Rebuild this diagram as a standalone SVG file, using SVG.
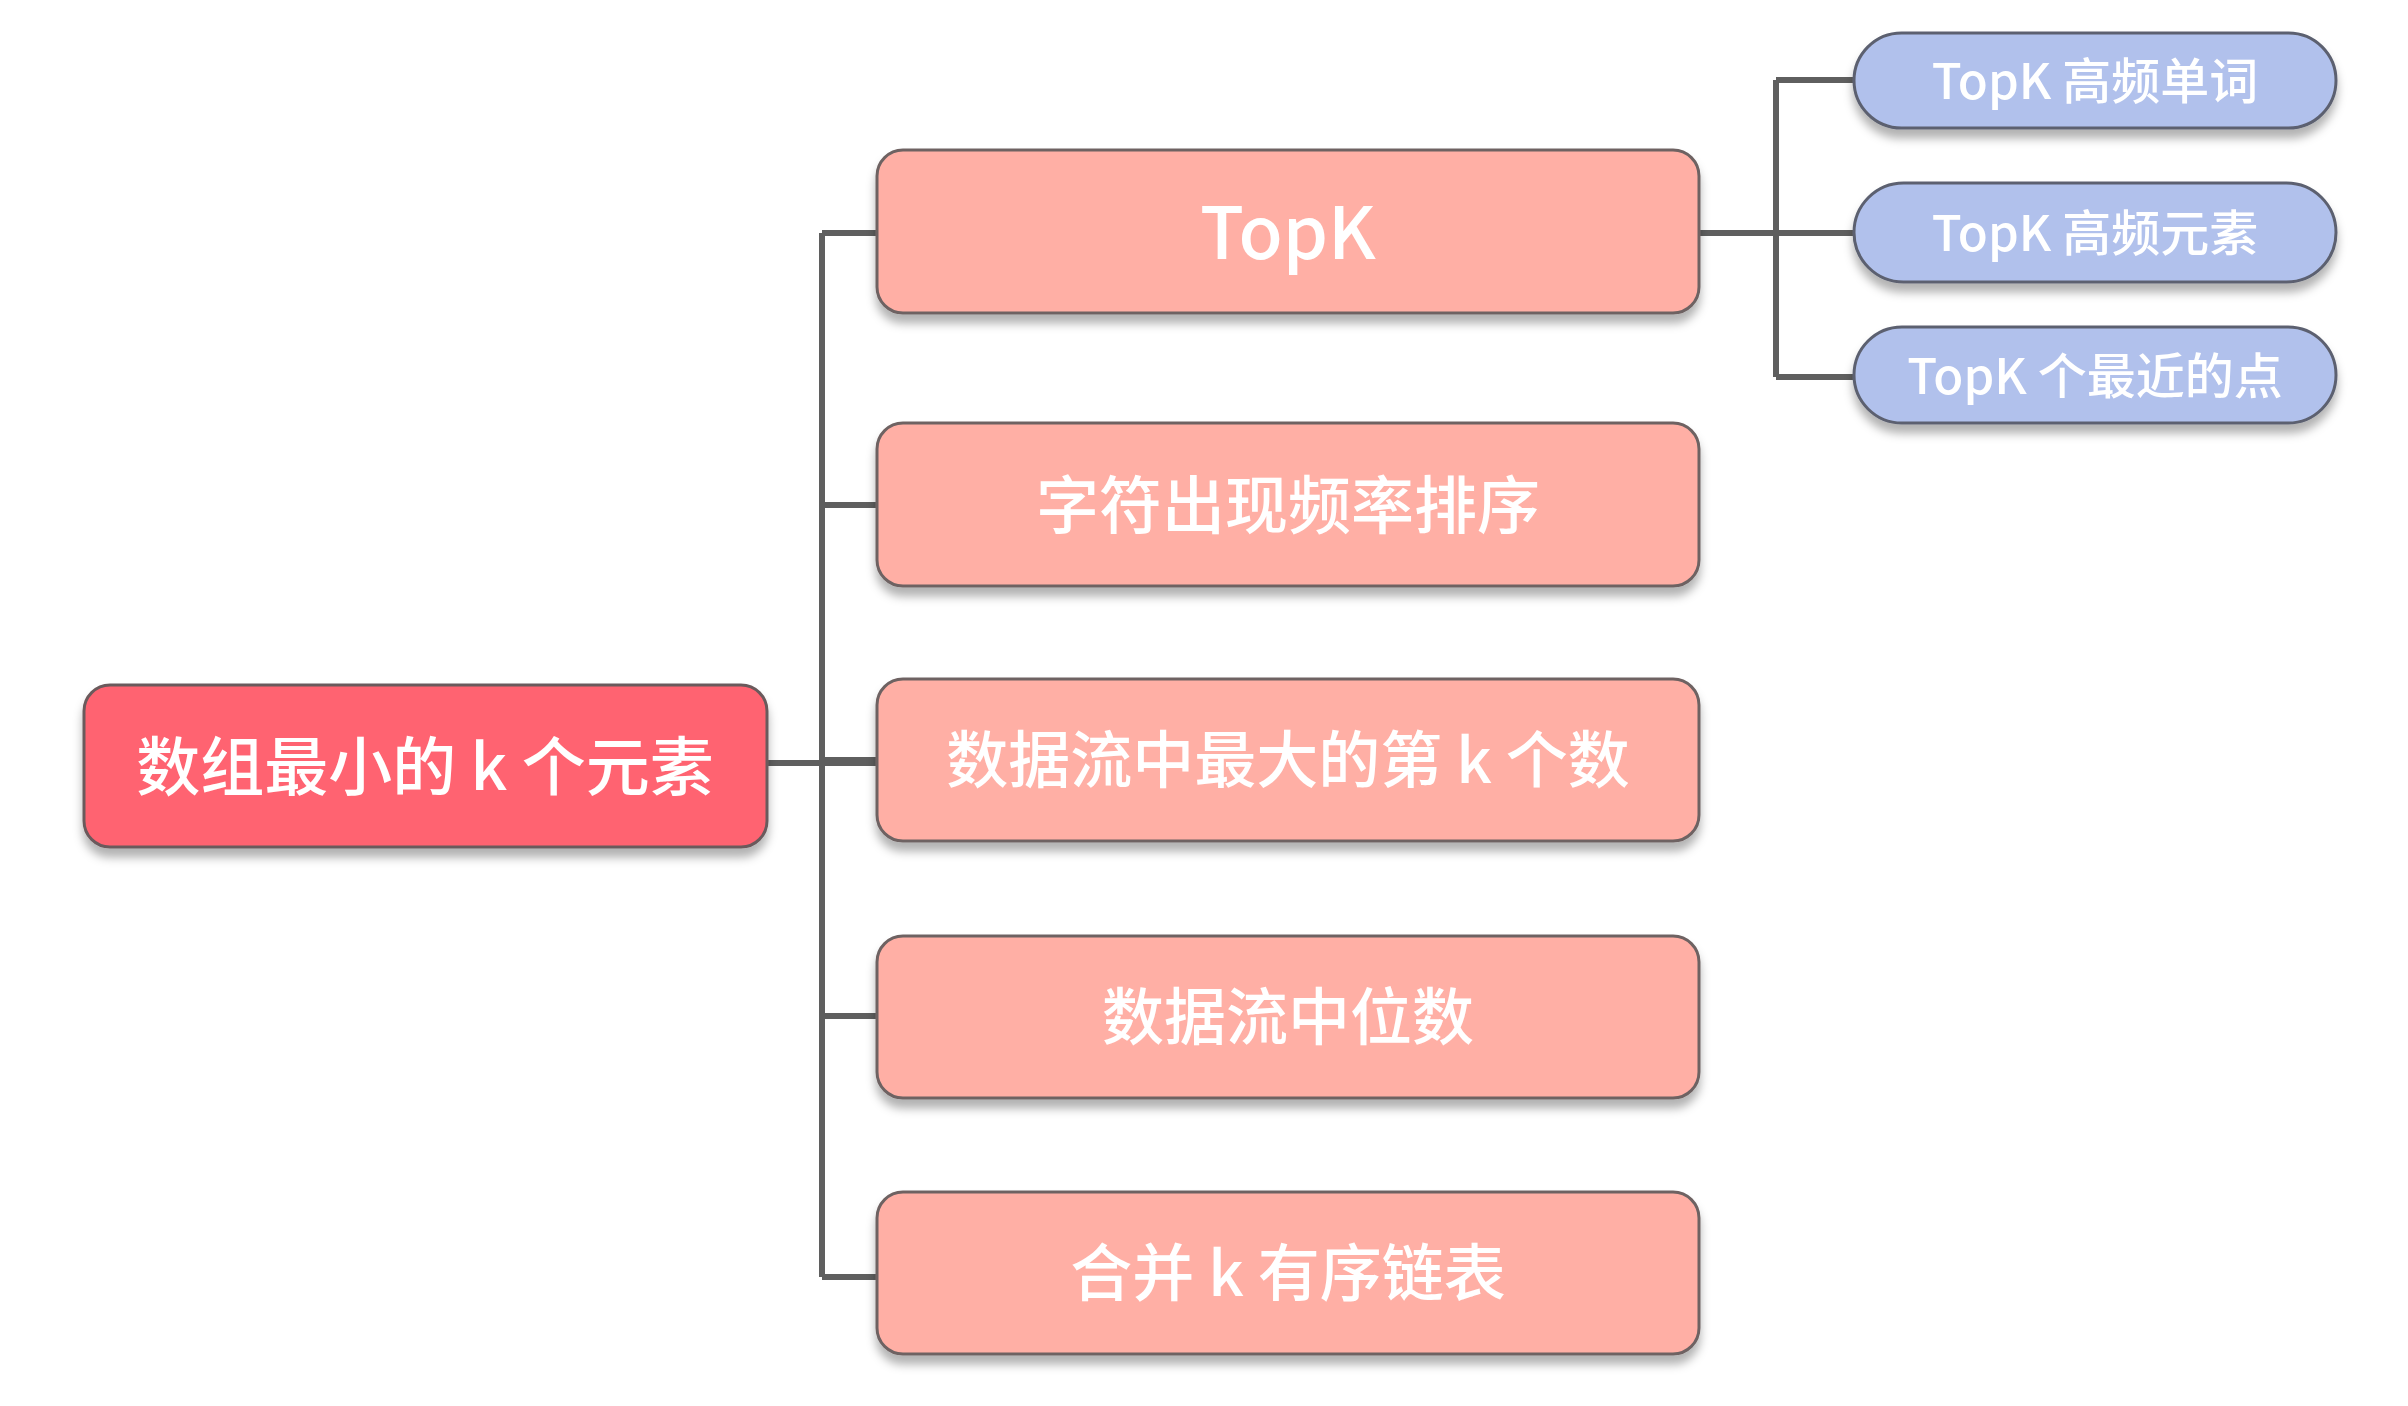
<svg xmlns="http://www.w3.org/2000/svg" width="2408" height="1406" viewBox="0 0 2408 1406">
<defs>
<filter id="sh" x="-10%" y="-20%" width="120%" height="150%">
<feDropShadow dx="0" dy="9" stdDeviation="5" flood-color="#000" flood-opacity="0.3"/>
</filter>
<style>
.root{fill:#FF6371;stroke:#6b5a5c;stroke-width:3;filter:url(#sh)}
.mid{fill:#FFAFA5;stroke:#6e6262;stroke-width:3;filter:url(#sh)}
.leaf{fill:#B1C1EC;stroke:#5c6170;stroke-width:3;filter:url(#sh)}
.t{fill:#fff;font-family:"Noto Sans CJK SC","Noto Sans",sans-serif;font-weight:500;text-anchor:middle;dominant-baseline:central}
.conn{fill:none;stroke:#5f5f5f;stroke-width:6}
</style>
</defs>
<rect width="2408" height="1406" fill="#fff"/>
<g id="connectors">
<path class="conn" d="M767 763H877"/>
<path class="conn" d="M822 233V1277"/>
<path class="conn" d="M822 233H877M822 505H877M822 760H877M822 1016H877M822 1277H877"/>
<path class="conn" d="M1699 233H1854"/>
<path class="conn" d="M1776 80V377"/>
<path class="conn" d="M1776 80H1854M1776 377H1854"/>
</g>
<g id="root">
<rect class="root" x="84" y="685" width="683" height="162" rx="26"/>
<text class="t" x="425" y="762" font-size="64">数组最小的 k 个元素</text>
</g>
<g id="n-topk">
<rect class="mid" x="877" y="150" width="822" height="163" rx="26"/>
<text class="t" x="1288" y="227" font-size="72">TopK</text>
</g>
<g id="n-freq">
<rect class="mid" x="877" y="423" width="822" height="163" rx="26"/>
<text class="t" x="1288" y="500" font-size="63">字符出现频率排序</text>
</g>
<g id="n-kth">
<rect class="mid" x="877" y="679" width="822" height="162" rx="26"/>
<text class="t" x="1288" y="756" font-size="62">数据流中最大的第 k 个数</text>
</g>
<g id="n-median">
<rect class="mid" x="877" y="936" width="822" height="162" rx="26"/>
<text class="t" x="1288" y="1013" font-size="62">数据流中位数</text>
</g>
<g id="n-merge">
<rect class="mid" x="877" y="1192" width="822" height="162" rx="26"/>
<text class="t" x="1288" y="1269" font-size="62">合并 k 有序链表</text>
</g>
<g id="l-words">
<rect class="leaf" x="1854" y="33" width="482" height="95" rx="47.5"/>
<text class="t" x="2095" y="77" font-size="49">TopK 高频单词</text>
</g>
<g id="l-elems">
<rect class="leaf" x="1854" y="183" width="482" height="99" rx="49.5"/>
<text class="t" x="2095" y="229" font-size="49">TopK 高频元素</text>
</g>
<g id="l-points">
<rect class="leaf" x="1854" y="327" width="482" height="96" rx="48"/>
<text class="t" x="2095" y="372" font-size="49">TopK 个最近的点</text>
</g>
</svg>
